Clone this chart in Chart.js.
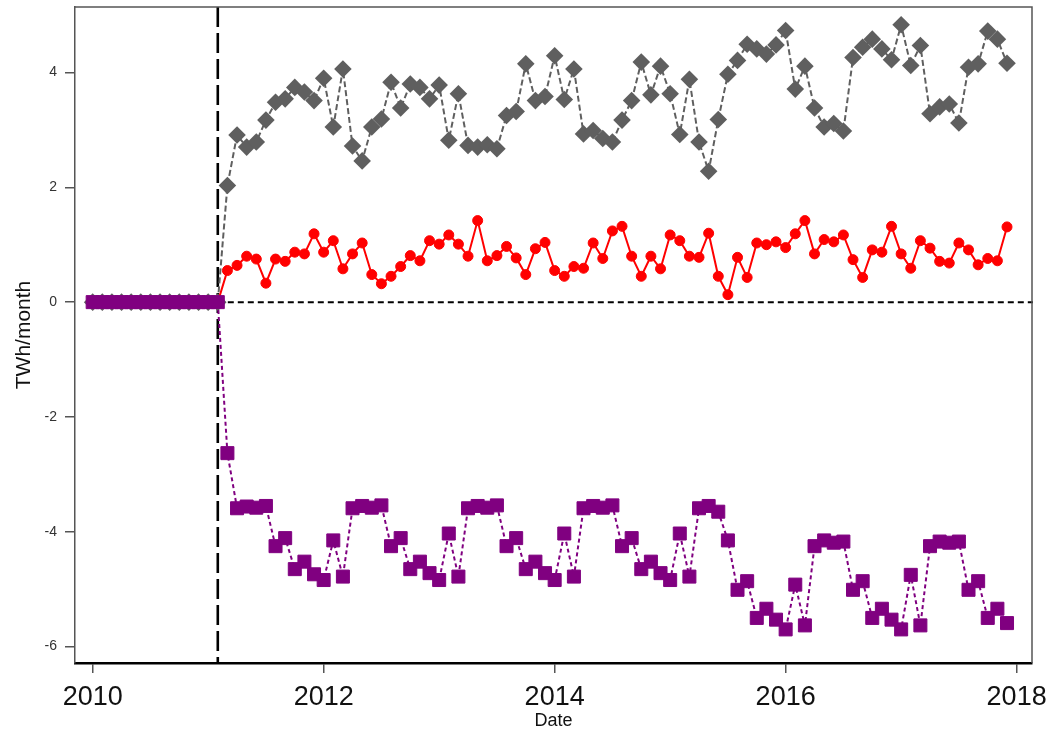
<!DOCTYPE html>
<html>
<head>
<meta charset="utf-8">
<script src="https://cdn.jsdelivr.net/npm/chart.js@4.4.1/dist/chart.umd.min.js"></script>
<style>
  html, body { margin: 0; padding: 0; background: #fff; }
  #wrap { width: 1052px; height: 732px; }
</style>
</head>
<body>
<div id="wrap"><canvas id="lineChart" width="1052" height="732"></canvas></div>
<script>
// Monthly observations, Jan 2010 .. Dec 2017
const startYear = 2010;
const monthCount = 96;
const months = [];
for (let i = 0; i < monthCount; i++) {
    months.push(startYear + i / 12);
}

// Treatment starts after Feb 2011 (month index 13)
const treatMonth = 2011 + 1 / 12;

// Grey diamonds (dashed line)
const seriesGrey = [
    0, 0, 0, 0, 0, 0, 0, 0, 0, 0, 0, 0, 0, 0,
    2.03, 2.91, 2.70, 2.79, 3.17, 3.48, 3.54, 3.74, 3.66, 3.51,
    3.90, 3.05, 4.06, 2.72, 2.46, 3.05, 3.19, 3.83, 3.38, 3.80, 3.74, 3.54,
    3.78, 2.82, 3.63, 2.73, 2.70, 2.74, 2.67, 3.25, 3.32, 4.15, 3.51, 3.58,
    4.29, 3.53, 4.06, 2.93, 2.99, 2.85, 2.79, 3.17, 3.51, 4.18, 3.61, 4.11,
    3.63, 2.92, 3.88, 2.79, 2.28, 3.18, 3.97, 4.21, 4.49, 4.41, 4.32, 4.48,
    4.73, 3.71, 4.11, 3.38, 3.05, 3.11, 2.98, 4.26, 4.44, 4.58, 4.41, 4.22,
    4.83, 4.12, 4.47, 3.28, 3.40, 3.45, 3.12, 4.09, 4.15, 4.72, 4.58, 4.16
];

// Red circles (solid line)
const seriesRed = [
    0, 0, 0, 0, 0, 0, 0, 0, 0, 0, 0, 0, 0, 0,
    0.55, 0.64, 0.80, 0.75, 0.33, 0.75, 0.71, 0.87, 0.84, 1.19,
    0.87, 1.07, 0.58, 0.84, 1.03, 0.48, 0.32, 0.45, 0.62, 0.81, 0.72, 1.07,
    1.01, 1.17, 1.01, 0.80, 1.42, 0.72, 0.81, 0.97, 0.77, 0.48, 0.93, 1.04,
    0.55, 0.45, 0.62, 0.59, 1.03, 0.76, 1.24, 1.32, 0.80, 0.45, 0.80, 0.58,
    1.17, 1.07, 0.80, 0.78, 1.20, 0.45, 0.13, 0.78, 0.43, 1.03, 1.00, 1.05,
    0.95, 1.19, 1.42, 0.84, 1.09, 1.05, 1.17, 0.74, 0.43, 0.91, 0.87, 1.32,
    0.84, 0.59, 1.07, 0.94, 0.71, 0.68, 1.03, 0.91, 0.65, 0.76, 0.72, 1.31
];

// Purple squares (dotted line)
const seriesPurple = [
    0, 0, 0, 0, 0, 0, 0, 0, 0, 0, 0, 0, 0, 0,
    -2.63, -3.59, -3.56, -3.58, -3.55, -4.25, -4.11, -4.65, -4.52, -4.74,
    -4.84, -4.15, -4.78, -3.59, -3.55, -3.58, -3.54, -4.25, -4.11, -4.65, -4.52, -4.72,
    -4.84, -4.03, -4.78, -3.59, -3.55, -3.58, -3.54, -4.25, -4.11, -4.65, -4.52, -4.72,
    -4.84, -4.03, -4.78, -3.59, -3.55, -3.58, -3.54, -4.25, -4.11, -4.65, -4.52, -4.72,
    -4.84, -4.03, -4.78, -3.59, -3.55, -3.65, -4.15, -5.01, -4.86, -5.50, -5.34, -5.53,
    -5.70, -4.92, -5.63, -4.25, -4.15, -4.19, -4.17, -5.01, -4.86, -5.50, -5.34, -5.53,
    -5.70, -4.75, -5.63, -4.25, -4.17, -4.19, -4.17, -5.01, -4.86, -5.50, -5.34, -5.59
];

const xTicks = [2010, 2012, 2014, 2016, 2018];
const yTicks = [-6, -4, -2, 0, 2, 4];

const FONT = "'Liberation Sans', Arial, sans-serif";

function toPoints(values) {
    return values.map((v, i) => ({ x: months[i], y: v }));
}

// Frame on top/right plus the reference lines (zero line and treatment date)
const refLines = {
    id: 'refLines',
    beforeDatasetsDraw(chart) {
        const { ctx, chartArea, scales } = chart;
        const xT = scales.x.getPixelForValue(treatMonth);
        const y0 = scales.y.getPixelForValue(0);
        ctx.save();
        ctx.strokeStyle = '#000';
        ctx.lineWidth = 2;
        ctx.setLineDash([6, 4]);
        ctx.beginPath();
        ctx.moveTo(xT, y0);
        ctx.lineTo(chartArea.right + 1, y0);
        ctx.stroke();
        ctx.lineWidth = 2.6;
        ctx.setLineDash([20, 6]);
        ctx.beginPath();
        ctx.moveTo(xT, chartArea.top);
        ctx.lineTo(xT, chartArea.bottom);
        ctx.stroke();
        ctx.restore();
    },
    afterDraw(chart) {
        const { ctx, chartArea } = chart;
        ctx.save();
        ctx.strokeStyle = '#555';
        ctx.lineWidth = 1.5;
        ctx.beginPath();
        ctx.moveTo(chartArea.left, chartArea.top);
        ctx.lineTo(chartArea.right, chartArea.top);
        ctx.lineTo(chartArea.right, chartArea.bottom);
        ctx.stroke();
        ctx.restore();
    }
};

const chartData = {
    datasets: [
        {
            label: 'Purple',
            data: toPoints(seriesPurple),
            borderColor: '#800080',
            backgroundColor: '#800080',
            borderWidth: 2,
            borderDash: [4, 3],
            pointStyle: 'rect',
            pointRadius: 9.2,
            pointBorderWidth: 1,
            pointBorderColor: '#800080',
            pointBackgroundColor: '#800080'
        },
        {
            label: 'Red',
            data: toPoints(seriesRed),
            borderColor: '#ff0000',
            backgroundColor: '#ff0000',
            borderWidth: 2,
            pointStyle: 'circle',
            pointRadius: 5,
            pointBorderWidth: 1,
            pointBorderColor: '#ff0000',
            pointBackgroundColor: '#ff0000'
        },
        {
            label: 'Grey',
            data: toPoints(seriesGrey),
            borderColor: '#5f5f5f',
            backgroundColor: '#5f5f5f',
            borderWidth: 2,
            borderDash: [6, 3],
            pointStyle: 'rectRot',
            pointRadius: 8.8,
            pointBorderWidth: 0,
            pointBackgroundColor: '#5f5f5f'
        }
    ]
};

const config = {
    type: 'line',
    data: chartData,
    plugins: [refLines],
    options: {
        responsive: false,
        animation: false,
        events: [],
        layout: { autoPadding: false, padding: { left: 0, right: 20, top: 7, bottom: 0 } },
        plugins: {
            legend: { display: false },
            tooltip: { enabled: false }
        },
        elements: { line: { tension: 0 } },
        scales: {
            x: {
                type: 'linear',
                min: 2009.847,
                max: 2018.133,
                afterFit: (s) => { s.height = 69; s.paddingLeft = 0; s.paddingRight = 0; },
                afterBuildTicks: (s) => { s.ticks = xTicks.map(v => ({ value: v })); },
                border: { color: '#000', width: 2.5 },
                grid: { drawOnChartArea: false, drawTicks: true, tickLength: 10, color: '#555', lineWidth: 1.5 },
                ticks: {
                    color: '#111',
                    padding: 8,
                    maxRotation: 0,
                    font: { family: FONT, size: 27 },
                    callback: (v) => String(v)
                },
                title: {
                    display: true,
                    text: 'Date',
                    color: '#111',
                    font: { family: FONT, size: 18 },
                    padding: { top: 0, bottom: 0 }
                }
            },
            y: {
                min: -6.285,
                max: 5.14,
                afterFit: (s) => { s.width = 75; s.paddingTop = 0; s.paddingBottom = 0; },
                afterBuildTicks: (s) => { s.ticks = yTicks.map(v => ({ value: v })); },
                border: { color: '#555', width: 1.5 },
                grid: { drawOnChartArea: false, drawTicks: true, tickLength: 10, color: '#555', lineWidth: 1.5 },
                ticks: {
                    color: '#333',
                    padding: 8,
                    font: { family: FONT, size: 14 },
                    callback: (v) => String(v)
                },
                title: {
                    display: true,
                    text: 'TWh/month',
                    color: '#111',
                    font: { family: FONT, size: 21 },
                    padding: { top: 12, bottom: 0 }
                }
            }
        }
    }
};

const lineChart = new Chart(document.getElementById('lineChart'), config);
</script>
</body>
</html>
